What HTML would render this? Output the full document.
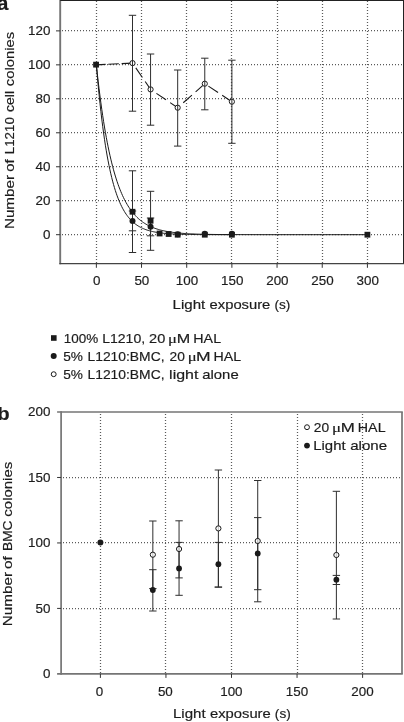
<!DOCTYPE html>
<html lang="en"><head><meta charset="utf-8"><title>Figure</title>
<style>html,body{margin:0;padding:0;background:#fff;}svg{display:block;}</style></head><body>
<svg width="404" height="722" viewBox="0 0 404 722" font-family='"Liberation Sans", Arial, Helvetica, sans-serif' fill="#1c1c1c">
<rect x="0" y="0" width="404" height="722" fill="#fff"/>
<g id="panel-a">
<line x1="96.50" y1="1.00" x2="96.50" y2="263.60" stroke="#5a5a5a" stroke-width="1.25" stroke-dasharray="1 2"/>
<line x1="141.50" y1="1.00" x2="141.50" y2="263.60" stroke="#5a5a5a" stroke-width="1.25" stroke-dasharray="1 2"/>
<line x1="186.50" y1="1.00" x2="186.50" y2="263.60" stroke="#5a5a5a" stroke-width="1.25" stroke-dasharray="1 2"/>
<line x1="231.50" y1="1.00" x2="231.50" y2="263.60" stroke="#5a5a5a" stroke-width="1.25" stroke-dasharray="1 2"/>
<line x1="277.50" y1="1.00" x2="277.50" y2="263.60" stroke="#5a5a5a" stroke-width="1.25" stroke-dasharray="1 2"/>
<line x1="322.50" y1="1.00" x2="322.50" y2="263.60" stroke="#5a5a5a" stroke-width="1.25" stroke-dasharray="1 2"/>
<line x1="367.50" y1="1.00" x2="367.50" y2="263.60" stroke="#5a5a5a" stroke-width="1.25" stroke-dasharray="1 2"/>
<line x1="62.00" y1="234.50" x2="403.50" y2="234.50" stroke="#5a5a5a" stroke-width="1.25" stroke-dasharray="1 2"/>
<line x1="62.00" y1="200.50" x2="403.50" y2="200.50" stroke="#5a5a5a" stroke-width="1.25" stroke-dasharray="1 2"/>
<line x1="62.00" y1="166.50" x2="403.50" y2="166.50" stroke="#5a5a5a" stroke-width="1.25" stroke-dasharray="1 2"/>
<line x1="62.00" y1="132.50" x2="403.50" y2="132.50" stroke="#5a5a5a" stroke-width="1.25" stroke-dasharray="1 2"/>
<line x1="62.00" y1="98.50" x2="403.50" y2="98.50" stroke="#5a5a5a" stroke-width="1.25" stroke-dasharray="1 2"/>
<line x1="62.00" y1="64.50" x2="403.50" y2="64.50" stroke="#5a5a5a" stroke-width="1.25" stroke-dasharray="1 2"/>
<line x1="62.00" y1="30.50" x2="403.50" y2="30.50" stroke="#5a5a5a" stroke-width="1.25" stroke-dasharray="1 2"/>
<line x1="60.20" y1="0.00" x2="60.20" y2="264.20" stroke="#747474" stroke-width="1.9" />
<line x1="59.40" y1="263.60" x2="404.00" y2="263.60" stroke="#444" stroke-width="1.2" />
<line x1="60.20" y1="0.50" x2="404.00" y2="0.50" stroke="#222" stroke-width="1" />
<line x1="403.50" y1="0.00" x2="403.50" y2="263.60" stroke="#222" stroke-width="1" />
<line x1="96.36" y1="263.60" x2="96.36" y2="267.80" stroke="#333" stroke-width="1.0" />
<line x1="141.53" y1="263.60" x2="141.53" y2="267.80" stroke="#333" stroke-width="1.0" />
<line x1="186.71" y1="263.60" x2="186.71" y2="267.80" stroke="#333" stroke-width="1.0" />
<line x1="231.88" y1="263.60" x2="231.88" y2="267.80" stroke="#333" stroke-width="1.0" />
<line x1="277.06" y1="263.60" x2="277.06" y2="267.80" stroke="#333" stroke-width="1.0" />
<line x1="322.24" y1="263.60" x2="322.24" y2="267.80" stroke="#333" stroke-width="1.0" />
<line x1="367.41" y1="263.60" x2="367.41" y2="267.80" stroke="#333" stroke-width="1.0" />
<line x1="56.00" y1="234.70" x2="60.20" y2="234.70" stroke="#333" stroke-width="1.0" />
<line x1="56.00" y1="200.73" x2="60.20" y2="200.73" stroke="#333" stroke-width="1.0" />
<line x1="56.00" y1="166.76" x2="60.20" y2="166.76" stroke="#333" stroke-width="1.0" />
<line x1="56.00" y1="132.79" x2="60.20" y2="132.79" stroke="#333" stroke-width="1.0" />
<line x1="56.00" y1="98.82" x2="60.20" y2="98.82" stroke="#333" stroke-width="1.0" />
<line x1="56.00" y1="64.85" x2="60.20" y2="64.85" stroke="#333" stroke-width="1.0" />
<line x1="56.00" y1="30.88" x2="60.20" y2="30.88" stroke="#333" stroke-width="1.0" />
<text x="96.66" y="285.35" font-size="13.4" text-anchor="middle" stroke="#1c1c1c" stroke-width="0.18" >0</text>
<text x="141.84" y="285.35" font-size="13.4" text-anchor="middle" stroke="#1c1c1c" stroke-width="0.18" >50</text>
<text x="187.01" y="285.35" font-size="13.4" text-anchor="middle" stroke="#1c1c1c" stroke-width="0.18" >100</text>
<text x="232.19" y="285.35" font-size="13.4" text-anchor="middle" stroke="#1c1c1c" stroke-width="0.18" >150</text>
<text x="277.36" y="285.35" font-size="13.4" text-anchor="middle" stroke="#1c1c1c" stroke-width="0.18" >200</text>
<text x="322.54" y="285.35" font-size="13.4" text-anchor="middle" stroke="#1c1c1c" stroke-width="0.18" >250</text>
<text x="367.71" y="285.35" font-size="13.4" text-anchor="middle" stroke="#1c1c1c" stroke-width="0.18" >300</text>
<text x="50.40" y="239.00" font-size="13.4" text-anchor="end" stroke="#1c1c1c" stroke-width="0.18" >0</text>
<text x="50.40" y="205.03" font-size="13.4" text-anchor="end" stroke="#1c1c1c" stroke-width="0.18" >20</text>
<text x="50.40" y="171.06" font-size="13.4" text-anchor="end" stroke="#1c1c1c" stroke-width="0.18" >40</text>
<text x="50.40" y="137.09" font-size="13.4" text-anchor="end" stroke="#1c1c1c" stroke-width="0.18" >60</text>
<text x="50.40" y="103.12" font-size="13.4" text-anchor="end" stroke="#1c1c1c" stroke-width="0.18" >80</text>
<text x="50.40" y="69.15" font-size="13.4" text-anchor="end" stroke="#1c1c1c" stroke-width="0.18" >100</text>
<text x="50.40" y="35.18" font-size="13.4" text-anchor="end" stroke="#1c1c1c" stroke-width="0.18" >120</text>
<text x="172.57" y="308.50" font-size="13.2" textLength="32.65" lengthAdjust="spacingAndGlyphs" stroke="#1c1c1c" stroke-width="0.18">Light</text>
<text x="209.57" y="308.50" font-size="13.2" textLength="60.78" lengthAdjust="spacingAndGlyphs" stroke="#1c1c1c" stroke-width="0.18">exposure</text>
<text x="274.45" y="308.50" font-size="13.2" textLength="15.89" lengthAdjust="spacingAndGlyphs" stroke="#1c1c1c" stroke-width="0.18">(s)</text>
<g transform="translate(13.8 227.8) rotate(-90)">
<text x="-1.25" y="0.00" font-size="13.4" textLength="54.00" lengthAdjust="spacingAndGlyphs" stroke="#1c1c1c" stroke-width="0.18">Number</text>
<text x="56.07" y="0.00" font-size="13.4" textLength="12.51" lengthAdjust="spacingAndGlyphs" stroke="#1c1c1c" stroke-width="0.18">of</text>
<text x="73.61" y="0.00" font-size="13.4" textLength="37.01" lengthAdjust="spacingAndGlyphs" stroke="#1c1c1c" stroke-width="0.18">L1210</text>
<text x="115.70" y="0.00" font-size="13.4" textLength="21.14" lengthAdjust="spacingAndGlyphs" stroke="#1c1c1c" stroke-width="0.18">cell</text>
<text x="141.67" y="0.00" font-size="13.4" textLength="54.36" lengthAdjust="spacingAndGlyphs" stroke="#1c1c1c" stroke-width="0.18">colonies</text>
</g>
<text x="-2.90" y="9.60" font-size="19.4" text-anchor="start" textLength="11.4" lengthAdjust="spacingAndGlyphs" font-weight="bold" stroke="#1c1c1c" stroke-width="0.18" >a</text>
<path d="M96.36 64.85 L132.50 63.10" fill="none" stroke="#1a1a1a" stroke-width="1.1" stroke-dasharray="9.3 2.6 10.6 2.8 20"/>
<path d="M132.50 63.10 L150.57 89.40 L177.68 107.70 L204.78 83.70 L231.88 101.70" fill="none" stroke="#1a1a1a" stroke-width="1.1" stroke-dasharray="11.6 4.95" stroke-dashoffset="10.7"/>
<path d="M96.36 64.85 L97.26 73.24 L98.17 81.21 L99.07 88.79 L99.97 95.99 L100.88 102.84 L101.78 109.35 L102.68 115.54 L103.59 121.42 L104.49 127.01 L105.39 132.33 L106.30 137.38 L107.20 142.19 L108.11 146.76 L109.01 151.10 L109.91 155.23 L110.82 159.15 L111.72 162.88 L112.62 166.43 L113.53 169.80 L114.43 173.00 L115.33 176.05 L116.24 178.94 L117.14 181.70 L118.04 184.31 L118.95 186.80 L119.85 189.17 L120.75 191.41 L121.66 193.55 L122.56 195.58 L123.47 197.51 L124.37 199.35 L125.27 201.10 L126.18 202.75 L127.08 204.33 L127.98 205.83 L128.89 207.26 L129.79 208.61 L130.69 209.90 L131.60 211.12 L132.50 212.29 L133.40 213.39 L134.31 214.45 L135.21 215.45 L136.11 216.40 L137.02 217.30 L137.92 218.16 L138.82 218.98 L139.73 219.75 L140.63 220.49 L141.53 221.19 L142.44 221.86 L143.34 222.49 L144.25 223.10 L145.15 223.67 L146.05 224.21 L146.96 224.73 L147.86 225.22 L148.76 225.69 L149.67 226.14 L150.57 226.56 L151.47 226.96 L152.38 227.34 L153.28 227.71 L154.18 228.05 L155.09 228.38 L155.99 228.69 L156.89 228.99 L157.80 229.27 L158.70 229.54 L159.60 229.79 L160.51 230.04 L161.41 230.27 L162.32 230.48 L163.22 230.69 L164.12 230.89 L165.03 231.08 L165.93 231.26 L166.83 231.43 L167.74 231.59 L168.64 231.74 L169.54 231.89 L170.45 232.03 L171.35 232.16 L172.25 232.28 L173.16 232.40 L174.06 232.52 L174.96 232.63 L175.87 232.73 L176.77 232.83 L177.68 232.92 L178.58 233.01 L179.48 233.09 L180.39 233.17 L181.29 233.24 L182.19 233.32 L183.10 233.38 L184.00 233.45 L184.90 233.51 L185.81 233.57 L186.71 233.63 L187.61 233.68 L188.52 233.73 L189.42 233.78 L190.32 233.82 L191.23 233.87 L192.13 233.91 L193.03 233.95 L193.94 233.98 L194.84 234.02 L195.75 234.05 L196.65 234.08 L197.55 234.11 L198.46 234.14 L199.36 234.17 L200.26 234.20 L201.17 234.22 L202.07 234.25 L202.97 234.27 L203.88 234.29 L204.78 234.31 L209.30 234.40 L213.81 234.46 L218.33 234.52 L222.85 234.56 L227.37 234.59 L231.88 234.61 L236.40 234.63 L240.92 234.65 L245.44 234.66 L249.95 234.67 L254.47 234.68 L258.99 234.68 L263.51 234.69 L268.02 234.69 L272.54 234.69 L277.06 234.69 L281.58 234.69 L286.09 234.70 L290.61 234.70 L295.13 234.70 L299.65 234.70 L304.17 234.70 L308.68 234.70 L313.20 234.70 L317.72 234.70 L322.24 234.70 L326.75 234.70 L331.27 234.70 L335.79 234.70 L340.31 234.70 L344.82 234.70 L349.34 234.70 L353.86 234.70 L358.38 234.70 L362.89 234.70 L367.41 234.70" fill="none" stroke="#1a1a1a" stroke-width="1.0"/>
<path d="M96.36 64.85 L97.26 75.40 L98.17 85.29 L99.07 94.56 L99.97 103.27 L100.88 111.43 L101.78 119.08 L102.68 126.26 L103.59 132.99 L104.49 139.31 L105.39 145.23 L106.30 150.79 L107.20 156.00 L108.11 160.88 L109.01 165.47 L109.91 169.77 L110.82 173.80 L111.72 177.58 L112.62 181.13 L113.53 184.45 L114.43 187.57 L115.33 190.50 L116.24 193.24 L117.14 195.82 L118.04 198.23 L118.95 200.50 L119.85 202.62 L120.75 204.61 L121.66 206.48 L122.56 208.23 L123.47 209.88 L124.37 211.42 L125.27 212.86 L126.18 214.22 L127.08 215.49 L127.98 216.68 L128.89 217.80 L129.79 218.85 L130.69 219.83 L131.60 220.76 L132.50 221.62 L133.40 222.44 L134.31 223.20 L135.21 223.91 L136.11 224.58 L137.02 225.21 L137.92 225.80 L138.82 226.35 L139.73 226.87 L140.63 227.36 L141.53 227.81 L142.44 228.24 L143.34 228.64 L144.25 229.02 L145.15 229.37 L146.05 229.70 L146.96 230.01 L147.86 230.30 L148.76 230.58 L149.67 230.83 L150.57 231.07 L151.47 231.30 L152.38 231.51 L153.28 231.71 L154.18 231.89 L155.09 232.07 L155.99 232.23 L156.89 232.38 L157.80 232.53 L158.70 232.66 L159.60 232.79 L160.51 232.91 L161.41 233.02 L162.32 233.12 L163.22 233.22 L164.12 233.31 L165.03 233.40 L165.93 233.48 L166.83 233.56 L167.74 233.63 L168.64 233.69 L169.54 233.76 L170.45 233.81 L171.35 233.87 L172.25 233.92 L173.16 233.97 L174.06 234.01 L174.96 234.06 L175.87 234.10 L176.77 234.13 L177.68 234.17 L178.58 234.20 L179.48 234.23 L180.39 234.26 L181.29 234.29 L182.19 234.32 L183.10 234.34 L184.00 234.36 L184.90 234.38 L185.81 234.40 L186.71 234.42 L187.61 234.44 L188.52 234.45 L189.42 234.47 L190.32 234.48 L191.23 234.50 L192.13 234.51 L193.03 234.52 L193.94 234.53 L194.84 234.54 L195.75 234.55 L196.65 234.56 L197.55 234.57 L198.46 234.58 L199.36 234.59 L200.26 234.59 L201.17 234.60 L202.07 234.61 L202.97 234.61 L203.88 234.62 L204.78 234.62 L209.30 234.64 L213.81 234.66 L218.33 234.67 L222.85 234.68 L227.37 234.68 L231.88 234.69" fill="none" stroke="#1a1a1a" stroke-width="1.0"/>
<circle cx="132.50" cy="63.10" r="2.6" fill="#fff" stroke="#1a1a1a" stroke-width="1.0"/>
<circle cx="150.57" cy="89.40" r="2.6" fill="#fff" stroke="#1a1a1a" stroke-width="1.0"/>
<circle cx="177.68" cy="107.70" r="2.6" fill="#fff" stroke="#1a1a1a" stroke-width="1.0"/>
<circle cx="204.78" cy="83.70" r="2.6" fill="#fff" stroke="#1a1a1a" stroke-width="1.0"/>
<circle cx="231.88" cy="101.70" r="2.6" fill="#fff" stroke="#1a1a1a" stroke-width="1.0"/>
<line x1="132.50" y1="15.30" x2="132.50" y2="111.20" stroke="#2e2e2e" stroke-width="1.0" />
<line x1="128.80" y1="15.30" x2="136.20" y2="15.30" stroke="#2e2e2e" stroke-width="1.0" />
<line x1="128.80" y1="111.20" x2="136.20" y2="111.20" stroke="#2e2e2e" stroke-width="1.0" />
<line x1="150.57" y1="54.00" x2="150.57" y2="125.20" stroke="#2e2e2e" stroke-width="1.0" />
<line x1="146.87" y1="54.00" x2="154.27" y2="54.00" stroke="#2e2e2e" stroke-width="1.0" />
<line x1="146.87" y1="125.20" x2="154.27" y2="125.20" stroke="#2e2e2e" stroke-width="1.0" />
<line x1="177.68" y1="70.00" x2="177.68" y2="146.10" stroke="#2e2e2e" stroke-width="1.0" />
<line x1="173.98" y1="70.00" x2="181.38" y2="70.00" stroke="#2e2e2e" stroke-width="1.0" />
<line x1="173.98" y1="146.10" x2="181.38" y2="146.10" stroke="#2e2e2e" stroke-width="1.0" />
<line x1="204.78" y1="58.20" x2="204.78" y2="109.80" stroke="#2e2e2e" stroke-width="1.0" />
<line x1="201.08" y1="58.20" x2="208.48" y2="58.20" stroke="#2e2e2e" stroke-width="1.0" />
<line x1="201.08" y1="109.80" x2="208.48" y2="109.80" stroke="#2e2e2e" stroke-width="1.0" />
<line x1="231.88" y1="60.20" x2="231.88" y2="143.30" stroke="#2e2e2e" stroke-width="1.0" />
<line x1="228.19" y1="60.20" x2="235.58" y2="60.20" stroke="#2e2e2e" stroke-width="1.0" />
<line x1="228.19" y1="143.30" x2="235.58" y2="143.30" stroke="#2e2e2e" stroke-width="1.0" />
<line x1="132.50" y1="170.80" x2="132.50" y2="252.50" stroke="#2e2e2e" stroke-width="1.0" />
<line x1="128.80" y1="170.80" x2="136.20" y2="170.80" stroke="#2e2e2e" stroke-width="1.0" />
<line x1="128.80" y1="252.50" x2="136.20" y2="252.50" stroke="#2e2e2e" stroke-width="1.0" />
<line x1="132.50" y1="211.00" x2="132.50" y2="230.80" stroke="#2e2e2e" stroke-width="1.0" />
<line x1="128.80" y1="211.00" x2="136.20" y2="211.00" stroke="#2e2e2e" stroke-width="1.0" />
<line x1="128.80" y1="230.80" x2="136.20" y2="230.80" stroke="#2e2e2e" stroke-width="1.0" />
<line x1="150.57" y1="191.30" x2="150.57" y2="250.30" stroke="#2e2e2e" stroke-width="1.0" />
<line x1="146.87" y1="191.30" x2="154.27" y2="191.30" stroke="#2e2e2e" stroke-width="1.0" />
<line x1="146.87" y1="250.30" x2="154.27" y2="250.30" stroke="#2e2e2e" stroke-width="1.0" />
<line x1="150.57" y1="218.00" x2="150.57" y2="235.80" stroke="#2e2e2e" stroke-width="1.0" />
<line x1="146.87" y1="218.00" x2="154.27" y2="218.00" stroke="#2e2e2e" stroke-width="1.0" />
<line x1="146.87" y1="235.80" x2="154.27" y2="235.80" stroke="#2e2e2e" stroke-width="1.0" />
<rect x="93.16" y="61.75" width="5.8" height="5.8" fill="#1a1a1a"/>
<rect x="129.60" y="208.85" width="5.8" height="5.8" fill="#1a1a1a"/>
<rect x="147.67" y="217.85" width="5.8" height="5.8" fill="#1a1a1a"/>
<rect x="156.70" y="230.60" width="5.8" height="5.8" fill="#1a1a1a"/>
<rect x="165.74" y="231.10" width="5.8" height="5.8" fill="#1a1a1a"/>
<rect x="174.78" y="231.80" width="5.8" height="5.8" fill="#1a1a1a"/>
<rect x="201.88" y="231.80" width="5.8" height="5.8" fill="#1a1a1a"/>
<rect x="228.98" y="231.80" width="5.8" height="5.8" fill="#1a1a1a"/>
<rect x="364.51" y="231.80" width="5.8" height="5.8" fill="#1a1a1a"/>
<circle cx="132.50" cy="221.00" r="3.0" fill="#1a1a1a"/>
<circle cx="150.57" cy="226.75" r="3.0" fill="#1a1a1a"/>
<circle cx="177.68" cy="234.20" r="3.0" fill="#1a1a1a"/>
<circle cx="204.78" cy="233.80" r="3.0" fill="#1a1a1a"/>
<circle cx="231.88" cy="233.70" r="3.0" fill="#1a1a1a"/>
</g>
<g id="legend-a">
<rect x="51.00" y="335.20" width="5.6" height="5.6" fill="#1a1a1a"/>
<circle cx="53.70" cy="356.00" r="3.0" fill="#1a1a1a"/>
<circle cx="53.70" cy="374.20" r="2.45" fill="#fff" stroke="#1a1a1a" stroke-width="1.0"/>
<text x="63.82" y="342.70" font-size="13.4" textLength="34.46" lengthAdjust="spacingAndGlyphs" stroke="#1c1c1c" stroke-width="0.18">100%</text>
<text x="102.15" y="342.70" font-size="13.4" textLength="43.02" lengthAdjust="spacingAndGlyphs" stroke="#1c1c1c" stroke-width="0.18">L1210,</text>
<text x="149.07" y="342.70" font-size="13.4" textLength="16.20" lengthAdjust="spacingAndGlyphs" stroke="#1c1c1c" stroke-width="0.18">20</text>
<text x="168.05" y="342.70" font-size="13.4" textLength="8.93" lengthAdjust="spacingAndGlyphs" font-family="Liberation Serif, DejaVu Serif, serif" stroke="#1c1c1c" stroke-width="0.18">μ</text>
<text x="176.68" y="342.70" font-size="13.4" textLength="13.45" lengthAdjust="spacingAndGlyphs" stroke="#1c1c1c" stroke-width="0.18">M</text>
<text x="193.33" y="342.70" font-size="13.4" textLength="27.74" lengthAdjust="spacingAndGlyphs" stroke="#1c1c1c" stroke-width="0.18">HAL</text>
<text x="63.25" y="360.80" font-size="13.4" textLength="19.73" lengthAdjust="spacingAndGlyphs" stroke="#1c1c1c" stroke-width="0.18">5%</text>
<text x="87.46" y="360.80" font-size="13.4" textLength="77.08" lengthAdjust="spacingAndGlyphs" stroke="#1c1c1c" stroke-width="0.18">L1210:BMC,</text>
<text x="169.61" y="360.80" font-size="13.4" textLength="15.33" lengthAdjust="spacingAndGlyphs" stroke="#1c1c1c" stroke-width="0.18">20</text>
<text x="187.65" y="360.80" font-size="13.4" textLength="8.93" lengthAdjust="spacingAndGlyphs" font-family="Liberation Serif, DejaVu Serif, serif" stroke="#1c1c1c" stroke-width="0.18">μ</text>
<text x="195.97" y="360.80" font-size="13.4" textLength="14.57" lengthAdjust="spacingAndGlyphs" stroke="#1c1c1c" stroke-width="0.18">M</text>
<text x="213.53" y="360.80" font-size="13.4" textLength="27.64" lengthAdjust="spacingAndGlyphs" stroke="#1c1c1c" stroke-width="0.18">HAL</text>
<text x="63.25" y="378.80" font-size="13.4" textLength="19.73" lengthAdjust="spacingAndGlyphs" stroke="#1c1c1c" stroke-width="0.18">5%</text>
<text x="87.46" y="378.80" font-size="13.4" textLength="77.08" lengthAdjust="spacingAndGlyphs" stroke="#1c1c1c" stroke-width="0.18">L1210:BMC,</text>
<text x="169.13" y="378.80" font-size="13.4" textLength="29.19" lengthAdjust="spacingAndGlyphs" stroke="#1c1c1c" stroke-width="0.18">light</text>
<text x="202.27" y="378.80" font-size="13.4" textLength="36.39" lengthAdjust="spacingAndGlyphs" stroke="#1c1c1c" stroke-width="0.18">alone</text>
</g>
<g id="panel-b">
<line x1="100.50" y1="414.00" x2="100.50" y2="673.90" stroke="#5a5a5a" stroke-width="1.25" stroke-dasharray="1 2"/>
<line x1="165.50" y1="414.00" x2="165.50" y2="673.90" stroke="#5a5a5a" stroke-width="1.25" stroke-dasharray="1 2"/>
<line x1="231.50" y1="414.00" x2="231.50" y2="673.90" stroke="#5a5a5a" stroke-width="1.25" stroke-dasharray="1 2"/>
<line x1="297.50" y1="414.00" x2="297.50" y2="673.90" stroke="#5a5a5a" stroke-width="1.25" stroke-dasharray="1 2"/>
<line x1="362.50" y1="414.00" x2="362.50" y2="673.90" stroke="#5a5a5a" stroke-width="1.25" stroke-dasharray="1 2"/>
<line x1="63.00" y1="608.50" x2="402.00" y2="608.50" stroke="#5a5a5a" stroke-width="1.25" stroke-dasharray="1 2"/>
<line x1="63.00" y1="542.50" x2="402.00" y2="542.50" stroke="#5a5a5a" stroke-width="1.25" stroke-dasharray="1 2"/>
<line x1="63.00" y1="477.50" x2="402.00" y2="477.50" stroke="#5a5a5a" stroke-width="1.25" stroke-dasharray="1 2"/>
<line x1="61.10" y1="411.20" x2="61.10" y2="674.70" stroke="#747474" stroke-width="1.7" />
<line x1="57.10" y1="673.90" x2="402.80" y2="673.90" stroke="#747474" stroke-width="1.7" />
<line x1="57.10" y1="412.00" x2="402.80" y2="412.00" stroke="#747474" stroke-width="1.7" />
<line x1="402.00" y1="412.00" x2="402.00" y2="673.90" stroke="#747474" stroke-width="1.7" />
<line x1="100.40" y1="673.90" x2="100.40" y2="677.90" stroke="#333" stroke-width="1.0" />
<line x1="165.95" y1="673.90" x2="165.95" y2="677.90" stroke="#333" stroke-width="1.0" />
<line x1="231.50" y1="673.90" x2="231.50" y2="677.90" stroke="#333" stroke-width="1.0" />
<line x1="297.05" y1="673.90" x2="297.05" y2="677.90" stroke="#333" stroke-width="1.0" />
<line x1="362.60" y1="673.90" x2="362.60" y2="677.90" stroke="#333" stroke-width="1.0" />
<line x1="57.10" y1="608.42" x2="61.10" y2="608.42" stroke="#333" stroke-width="1.0" />
<line x1="57.10" y1="542.95" x2="61.10" y2="542.95" stroke="#333" stroke-width="1.0" />
<line x1="57.10" y1="477.47" x2="61.10" y2="477.47" stroke="#333" stroke-width="1.0" />
<text x="99.40" y="695.80" font-size="13.4" text-anchor="middle" stroke="#1c1c1c" stroke-width="0.18" >0</text>
<text x="165.35" y="695.80" font-size="13.4" text-anchor="middle" stroke="#1c1c1c" stroke-width="0.18" >50</text>
<text x="231.40" y="695.80" font-size="13.4" text-anchor="middle" stroke="#1c1c1c" stroke-width="0.18" >100</text>
<text x="296.95" y="695.80" font-size="13.4" text-anchor="middle" stroke="#1c1c1c" stroke-width="0.18" >150</text>
<text x="362.50" y="695.80" font-size="13.4" text-anchor="middle" stroke="#1c1c1c" stroke-width="0.18" >200</text>
<text x="50.40" y="678.20" font-size="13.4" text-anchor="end" stroke="#1c1c1c" stroke-width="0.18" >0</text>
<text x="50.40" y="612.72" font-size="13.4" text-anchor="end" stroke="#1c1c1c" stroke-width="0.18" >50</text>
<text x="50.40" y="547.25" font-size="13.4" text-anchor="end" stroke="#1c1c1c" stroke-width="0.18" >100</text>
<text x="50.40" y="481.77" font-size="13.4" text-anchor="end" stroke="#1c1c1c" stroke-width="0.18" >150</text>
<text x="50.40" y="416.30" font-size="13.4" text-anchor="end" stroke="#1c1c1c" stroke-width="0.18" >200</text>
<text x="172.97" y="718.30" font-size="13.2" textLength="32.65" lengthAdjust="spacingAndGlyphs" stroke="#1c1c1c" stroke-width="0.18">Light</text>
<text x="209.97" y="718.30" font-size="13.2" textLength="60.78" lengthAdjust="spacingAndGlyphs" stroke="#1c1c1c" stroke-width="0.18">exposure</text>
<text x="274.85" y="718.30" font-size="13.2" textLength="15.89" lengthAdjust="spacingAndGlyphs" stroke="#1c1c1c" stroke-width="0.18">(s)</text>
<g transform="translate(11.8 624.9) rotate(-90)">
<text x="-1.25" y="0.00" font-size="13.4" textLength="54.20" lengthAdjust="spacingAndGlyphs" stroke="#1c1c1c" stroke-width="0.18">Number</text>
<text x="55.95" y="0.00" font-size="13.4" textLength="12.82" lengthAdjust="spacingAndGlyphs" stroke="#1c1c1c" stroke-width="0.18">of</text>
<text x="73.87" y="0.00" font-size="13.4" textLength="30.55" lengthAdjust="spacingAndGlyphs" stroke="#1c1c1c" stroke-width="0.18">BMC</text>
<text x="108.26" y="0.00" font-size="13.4" textLength="54.88" lengthAdjust="spacingAndGlyphs" stroke="#1c1c1c" stroke-width="0.18">colonies</text>
</g>
<text x="-2.70" y="420.00" font-size="18.8" text-anchor="start" textLength="12.4" lengthAdjust="spacingAndGlyphs" font-weight="bold" stroke="#1c1c1c" stroke-width="0.18" >b</text>
<line x1="152.84" y1="521.00" x2="152.84" y2="588.60" stroke="#2e2e2e" stroke-width="1.0" />
<line x1="149.14" y1="521.00" x2="156.54" y2="521.00" stroke="#2e2e2e" stroke-width="1.0" />
<line x1="149.14" y1="588.60" x2="156.54" y2="588.60" stroke="#2e2e2e" stroke-width="1.0" />
<line x1="152.84" y1="569.70" x2="152.84" y2="611.00" stroke="#2e2e2e" stroke-width="1.0" />
<line x1="149.14" y1="569.70" x2="156.54" y2="569.70" stroke="#2e2e2e" stroke-width="1.0" />
<line x1="149.14" y1="611.00" x2="156.54" y2="611.00" stroke="#2e2e2e" stroke-width="1.0" />
<line x1="179.06" y1="520.80" x2="179.06" y2="577.90" stroke="#2e2e2e" stroke-width="1.0" />
<line x1="175.36" y1="520.80" x2="182.76" y2="520.80" stroke="#2e2e2e" stroke-width="1.0" />
<line x1="175.36" y1="577.90" x2="182.76" y2="577.90" stroke="#2e2e2e" stroke-width="1.0" />
<line x1="179.06" y1="542.40" x2="179.06" y2="595.30" stroke="#2e2e2e" stroke-width="1.0" />
<line x1="175.36" y1="542.40" x2="182.76" y2="542.40" stroke="#2e2e2e" stroke-width="1.0" />
<line x1="175.36" y1="595.30" x2="182.76" y2="595.30" stroke="#2e2e2e" stroke-width="1.0" />
<line x1="218.39" y1="470.00" x2="218.39" y2="587.10" stroke="#2e2e2e" stroke-width="1.0" />
<line x1="214.69" y1="470.00" x2="222.09" y2="470.00" stroke="#2e2e2e" stroke-width="1.0" />
<line x1="214.69" y1="587.10" x2="222.09" y2="587.10" stroke="#2e2e2e" stroke-width="1.0" />
<line x1="218.39" y1="542.40" x2="218.39" y2="587.10" stroke="#2e2e2e" stroke-width="1.0" />
<line x1="214.69" y1="542.40" x2="222.09" y2="542.40" stroke="#2e2e2e" stroke-width="1.0" />
<line x1="214.69" y1="587.10" x2="222.09" y2="587.10" stroke="#2e2e2e" stroke-width="1.0" />
<line x1="257.72" y1="480.50" x2="257.72" y2="601.80" stroke="#2e2e2e" stroke-width="1.0" />
<line x1="254.02" y1="480.50" x2="261.42" y2="480.50" stroke="#2e2e2e" stroke-width="1.0" />
<line x1="254.02" y1="601.80" x2="261.42" y2="601.80" stroke="#2e2e2e" stroke-width="1.0" />
<line x1="257.72" y1="517.60" x2="257.72" y2="589.70" stroke="#2e2e2e" stroke-width="1.0" />
<line x1="254.02" y1="517.60" x2="261.42" y2="517.60" stroke="#2e2e2e" stroke-width="1.0" />
<line x1="254.02" y1="589.70" x2="261.42" y2="589.70" stroke="#2e2e2e" stroke-width="1.0" />
<line x1="336.38" y1="491.30" x2="336.38" y2="619.00" stroke="#2e2e2e" stroke-width="1.0" />
<line x1="332.68" y1="491.30" x2="340.08" y2="491.30" stroke="#2e2e2e" stroke-width="1.0" />
<line x1="332.68" y1="619.00" x2="340.08" y2="619.00" stroke="#2e2e2e" stroke-width="1.0" />
<line x1="336.38" y1="575.40" x2="336.38" y2="584.50" stroke="#2e2e2e" stroke-width="1.0" />
<line x1="332.68" y1="575.40" x2="340.08" y2="575.40" stroke="#2e2e2e" stroke-width="1.0" />
<line x1="332.68" y1="584.50" x2="340.08" y2="584.50" stroke="#2e2e2e" stroke-width="1.0" />
<circle cx="100.40" cy="542.60" r="3.0" fill="#1a1a1a"/>
<circle cx="152.84" cy="554.70" r="2.6" fill="#fff" fill-opacity="0.7" stroke="#1a1a1a" stroke-width="1"/>
<circle cx="152.84" cy="590.00" r="2.9" fill="#1a1a1a"/>
<circle cx="179.06" cy="549.00" r="2.6" fill="#fff" fill-opacity="0.7" stroke="#1a1a1a" stroke-width="1"/>
<circle cx="179.06" cy="568.40" r="2.9" fill="#1a1a1a"/>
<circle cx="218.39" cy="528.40" r="2.6" fill="#fff" fill-opacity="0.7" stroke="#1a1a1a" stroke-width="1"/>
<circle cx="218.39" cy="564.20" r="2.9" fill="#1a1a1a"/>
<circle cx="257.72" cy="541.00" r="2.6" fill="#fff" fill-opacity="0.7" stroke="#1a1a1a" stroke-width="1"/>
<circle cx="257.72" cy="553.40" r="2.9" fill="#1a1a1a"/>
<circle cx="336.38" cy="555.00" r="2.6" fill="#fff" fill-opacity="0.7" stroke="#1a1a1a" stroke-width="1"/>
<circle cx="336.38" cy="579.70" r="2.9" fill="#1a1a1a"/>
<circle cx="307.00" cy="427.20" r="2.45" fill="#fff" stroke="#1a1a1a" stroke-width="1.0"/>
<circle cx="307.00" cy="445.60" r="2.9" fill="#1a1a1a"/>
<text x="313.81" y="432.20" font-size="13.4" textLength="15.33" lengthAdjust="spacingAndGlyphs" stroke="#1c1c1c" stroke-width="0.18">20</text>
<text x="332.03" y="432.20" font-size="13.4" textLength="9.06" lengthAdjust="spacingAndGlyphs" font-family="Liberation Serif, DejaVu Serif, serif" stroke="#1c1c1c" stroke-width="0.18">μ</text>
<text x="340.81" y="432.20" font-size="13.4" textLength="14.07" lengthAdjust="spacingAndGlyphs" stroke="#1c1c1c" stroke-width="0.18">M</text>
<text x="357.83" y="432.20" font-size="13.4" textLength="27.74" lengthAdjust="spacingAndGlyphs" stroke="#1c1c1c" stroke-width="0.18">HAL</text>
<text x="313.28" y="450.10" font-size="13.4" textLength="32.33" lengthAdjust="spacingAndGlyphs" stroke="#1c1c1c" stroke-width="0.18">Light</text>
<text x="350.16" y="450.10" font-size="13.4" textLength="36.91" lengthAdjust="spacingAndGlyphs" stroke="#1c1c1c" stroke-width="0.18">alone</text>
</g>
</svg></body></html>
